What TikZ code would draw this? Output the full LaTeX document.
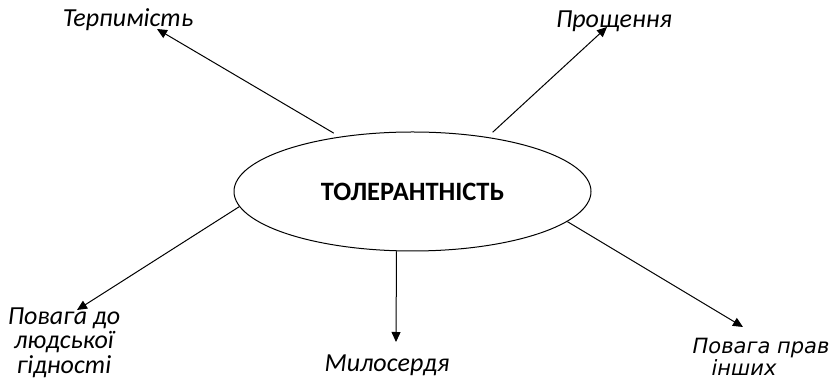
\documentclass[tikz,border=0pt]{standalone}
\usepackage{fontspec}
\setmainfont{Carlito}
\newfontfamily\dejavu{DejaVu Sans}
\usetikzlibrary{shapes.geometric,arrows.meta}
\tikzset{
  lbl/.style={font=\fontsize{26}{24.5}\selectfont\itshape, inner sep=0pt, anchor=base, align=center},
  lblb/.style={font=\fontsize{21}{21.5}\selectfont\dejavu\itshape, inner sep=0pt, anchor=north, align=left},
  arr/.style={line width=1pt, -{Triangle[length=10pt,width=9pt]}},
  centre/.style={ellipse, draw, line width=1pt, minimum width=357pt, minimum height=119pt, inner sep=0pt,
    font=\fontsize{26.5}{28}\selectfont\bfseries}
}
\begin{document}
\begin{tikzpicture}[x=1pt,y=1pt]
\useasboundingbox (0,0) rectangle (832,379);
\node[centre] (ell) at (412.5,187.5) {ТОЛЕРАНТНІСТЬ};
\node[lbl] (terp) at (128,352) {Терпимість};
\node[lbl] (prosch) at (614,351) {Прощення};
\node[lbl, anchor=north] (povlud) at (64,71.5) {Повага до\\людської\\гідності};
\node[lbl] (mylo) at (387,7.5) {Милосердя};
\node[lblb] (povprav) at (761,41) {Повага прав\\\hspace*{19pt}інших};
\coordinate (t1) at (157,350);
\coordinate (t2) at (607,352);
\coordinate (t3) at (77,69);
\coordinate (t4) at (396,37);
\coordinate (t5) at (743,52);
\draw[arr, shorten <=7pt] (ell.143.5) -- (t1);
\draw[arr, shorten <=7pt] (ell.36.5) -- (t2);
\draw[arr] (ell.185) -- (t3);
\draw[arr] (ell.255) -- (t4);
\draw[arr] (ell.-11) -- (t5);
\end{tikzpicture}
\end{document}
